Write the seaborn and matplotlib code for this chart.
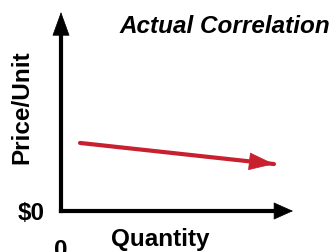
#Price vs. Quantity sketch - "Actual Correlation"

import matplotlib
matplotlib.use("Agg")
import matplotlib.pyplot as plt
import seaborn as sns

quantity = [0.82, 9.18]
price = [3.42, 2.36]
x_ticks = [0]
x_tick_labels = ["0"]
y_ticks = [0]
y_tick_labels = ["$0"]

sns.set_style("white")
plt.rcParams['font.family'] = ['Liberation Sans', 'DejaVu Sans']
plt.rcParams['text.color'] = 'black'

red = "#c8202f"
fs = 17.5

fig = plt.figure(figsize=(3.34, 2.52), dpi=100)
ax = fig.add_axes([61/334, 41/252, 232/334, 199/252])

sns.lineplot(x=quantity, y=price, color=red, linewidth=3, ax=ax)
# arrow head on the red line
ax.annotate("", xy=(quantity[1], price[1]), xytext=(quantity[0], price[0]),
            arrowprops=dict(arrowstyle="-|>,head_length=17,head_width=6",
                            mutation_scale=1, color=red, lw=0.5,
                            shrinkA=0, shrinkB=0))

ax.set_xlim(0, 10)
ax.set_ylim(0, 10)

for side in ["top", "right"]:
    ax.spines[side].set_visible(False)
for side in ["left", "bottom"]:
    ax.spines[side].set_linewidth(3)
    ax.spines[side].set_color("black")
ax.spines["bottom"].set_bounds(0, 9.3)
ax.spines["left"].set_bounds(0, 9.0)

# axis arrow heads
ax.annotate("", xy=(1, 0), xytext=(0.9, 0), xycoords="axes fraction",
            arrowprops=dict(arrowstyle="-|>,head_length=13,head_width=5.8",
                            mutation_scale=1, color="black", lw=0.5,
                            shrinkA=0, shrinkB=0), annotation_clip=False)
ax.annotate("", xy=(0, 1), xytext=(0, 0.9), xycoords="axes fraction",
            arrowprops=dict(arrowstyle="-|>,head_length=16,head_width=5.8",
                            mutation_scale=1, color="black", lw=0.5,
                            shrinkA=0, shrinkB=0), annotation_clip=False)

ax.set_xticks(x_ticks)
ax.set_xticklabels(x_tick_labels, fontsize=fs, fontweight="bold")
ax.set_yticks(y_ticks)
ax.set_yticklabels(y_tick_labels, fontsize=fs, fontweight="bold")
ax.tick_params(axis="x", direction="out", length=8, width=3, pad=12, colors="black")
ax.tick_params(axis="y", direction="out", length=6.5, width=3, pad=5, colors="black")
ax.patch.set_alpha(0)

ax.set_xlabel("Quantity", fontsize=fs, fontweight="bold", color="black")
ax.xaxis.set_label_coords(0.427, -0.085)
ax.set_ylabel("Price/Unit", fontsize=fs, fontweight="bold", color="black")
ax.yaxis.set_label_coords(-0.12, 0.523)

fig.text(330/334, (252-33)/252, "Actual Correlation", fontsize=fs, fontweight="bold",
         fontstyle="italic", ha="right", va="baseline", color="black")

plt.savefig("out.png", dpi=100)
